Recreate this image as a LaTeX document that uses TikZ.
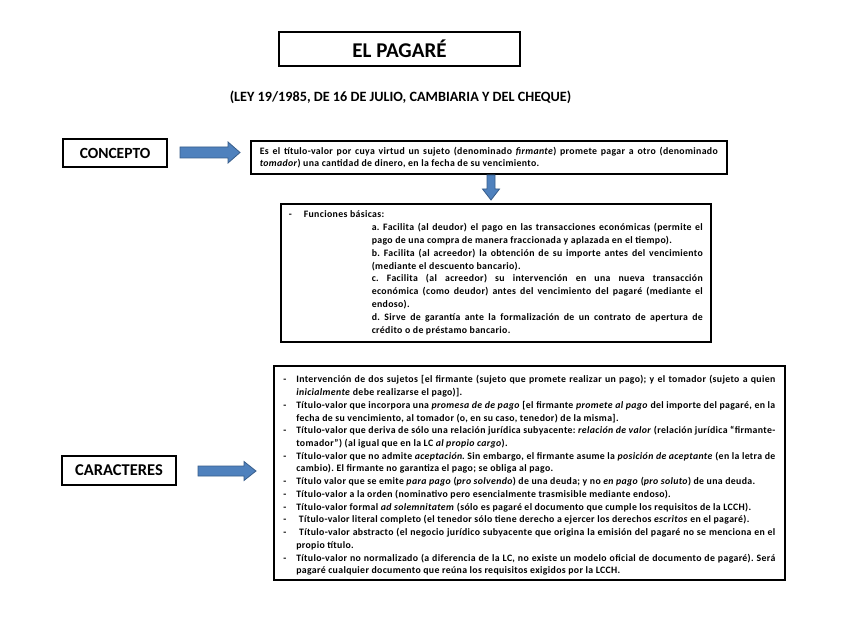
\documentclass[tikz,border=0pt]{standalone}
\usepackage{fontspec}
\setmainfont{Carlito}
\newfontfamily\bodyfont[LetterSpace=3.5]{Carlito}
\definecolor{arrfill}{HTML}{4F81BD}
\definecolor{arrdraw}{HTML}{385D8A}
\newcommand{\dashitem}{\par\noindent\hangindent=13pt\hangafter=1\makebox[13pt][l]{-}}
\frenchspacing
\begin{document}
\frenchspacing
\begin{tikzpicture}[x=1pt,y=-1pt,
  box/.style={draw=black, line width=1.6pt, inner sep=0pt},
  label/.style={box, font=\bfseries\fontsize{15.5}{18}\selectfont},
  bodytext/.style={align=justify},
  barrow/.style={fill=arrfill, draw=arrdraw, line width=0.8pt}]
\useasboundingbox (0,0) rectangle (848,636);
\fill[white] (0,0) rectangle (848,636);

\node[box, minimum width=241, minimum height=34, font=\bfseries\fontsize{21}{24}\selectfont] (title) at (399.5,49) {EL PAGARÉ};
\node[font=\bfseries\fontsize{14.2}{16}\selectfont, inner sep=0pt] (ley) at (400.5,97) {(LEY 19/1985, DE 16 DE JULIO, CAMBIARIA Y DEL CHEQUE)};

\node[label, minimum width=104, minimum height=28] (concepto) at (115,153) {CONCEPTO};
\node[label, font=\bfseries\fontsize{16.5}{18}\selectfont, minimum width=114, minimum height=29] (caracteres) at (119,470.5) {CARACTERES};

\node[box, bodytext, font=\bodyfont\bfseries\fontsize{9.8}{12}\selectfont, anchor=north west, text width=458, inner xsep=9pt, minimum height=33] (def) at (250,140)
{\frenchspacing Es el título-valor por cuya virtud un sujeto (denominado \textit{firmante}) promete pagar a otro (denominado\linebreak
\textit{tomador}) una cantidad de dinero, en la fecha de su vencimiento.};

\node[box, bodytext, font=\bodyfont\bfseries\fontsize{9.8}{12.9}\selectfont, anchor=north west, text width=414, inner xsep=8pt, minimum height=138] (func) at (280,203)
{\frenchspacing\noindent\makebox[15pt][l]{-}Funciones básicas:\par
\leftskip=83pt
\noindent a. Facilita (al deudor) el pago en las transacciones económicas (permite el\linebreak
pago de una compra de manera fraccionada y aplazada en el tiempo).\par
\noindent b. Facilita (al acreedor) la obtención de su importe antes del vencimiento\linebreak
(mediante el descuento bancario).\par
\noindent c. Facilita (al acreedor) su intervención en una nueva transacción\linebreak
económica (como deudor) antes del vencimiento del pagaré (mediante el\linebreak
endoso).\par
\noindent d. Sirve de garantía ante la formalización de un contrato de apertura de\linebreak
crédito o de préstamo bancario.\par};

\node[box, bodytext, font=\bodyfont\bfseries\fontsize{9.8}{12.73}\selectfont, anchor=north west, text width=492, inner xsep=9.5pt, minimum height=214] (car) at (273,365)
{\frenchspacing
\dashitem Intervención de dos sujetos [el firmante (sujeto que promete realizar un pago); y el tomador (sujeto a quien\linebreak
\textit{inicialmente} debe realizarse el pago)].
\dashitem Título-valor que incorpora una \textit{promesa de de pago} [el firmante \textit{promete al pago} del importe del pagaré, en la\linebreak
fecha de su vencimiento, al tomador (o, en su caso, tenedor) de la misma].
\dashitem Título-valor que deriva de sólo una relación jurídica subyacente: \textit{relación de valor} (relación jurídica “firmante-\linebreak
tomador”) (al igual que en la LC \textit{al propio cargo}).
\dashitem Título-valor que no admite \textit{aceptación}. Sin embargo, el firmante asume la \textit{posición de aceptante} (en la letra de\linebreak
cambio). El firmante no garantiza el pago; se obliga al pago.
\dashitem Título valor que se emite \textit{para pago} (\textit{pro solvendo}) de una deuda; y no \textit{en pago} (\textit{pro soluto}) de una deuda.
\dashitem Título-valor a la orden (nominativo pero esencialmente trasmisible mediante endoso).
\dashitem Título-valor formal \textit{ad solemnitatem} (sólo es pagaré el documento que cumple los requisitos de la LCCH).
\dashitem \ Título-valor literal completo (el tenedor sólo tiene derecho a ejercer los derechos \textit{escritos} en el pagaré).
\dashitem \ Título-valor abstracto (el negocio jurídico subyacente que origina la emisión del pagaré no se menciona en el\linebreak
propio título.
\dashitem Título-valor no normalizado (a diferencia de la LC, no existe un modelo oficial de documento de pagaré). Será\linebreak
pagaré cualquier documento que reúna los requisitos exigidos por la LCCH.\par};

% block arrows
\filldraw[barrow] (180,147) -- (228,147) -- (228,142) -- (240,152.5) -- (228,163) -- (228,158) -- (180,158) -- cycle;
\filldraw[barrow] (487,175) -- (495,175) -- (495,189) -- (499.5,189) -- (491,200) -- (482.5,189) -- (487,189) -- cycle;
\filldraw[barrow] (198,466) -- (244,466) -- (244,461.5) -- (256,471) -- (244,480.5) -- (244,476) -- (198,476) -- cycle;
\end{tikzpicture}
\end{document}
